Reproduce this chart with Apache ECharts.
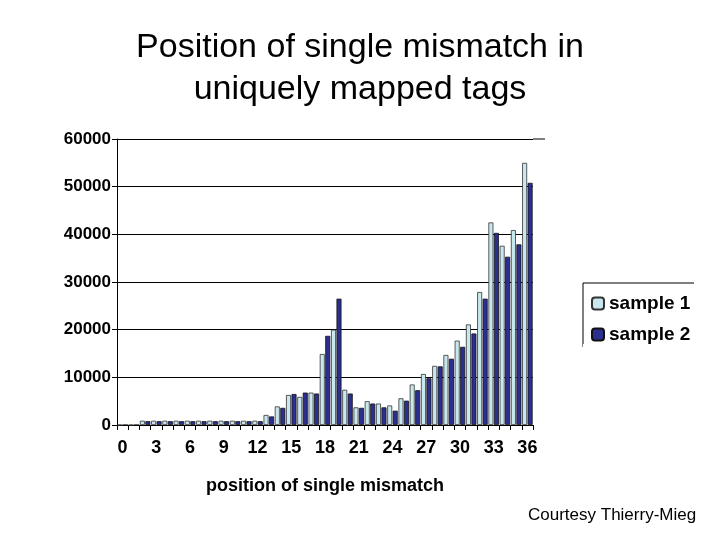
<!DOCTYPE html><html><head><meta charset="utf-8"><script src="https://cdn.jsdelivr.net/npm/echarts@6/dist/echarts.min.js"></script></head><body style="margin:0;background:#fff"><div id="c" style="width:720px;height:540px"></div><script>
const categories = Array.from({length:37},(_,i)=>String(i));
const sample1 = [0,0,900,900,900,900,900,900,900,900,900,900,900,2100,3900,6300,5900,6800,14900,20000,7400,3700,5000,4500,4100,5600,8500,10700,12400,14700,17700,21100,27900,42500,37600,40900,55000];
const sample2 = [0,0,800,800,800,800,800,800,800,800,800,800,800,1800,3600,6500,6800,6600,18700,26500,6600,3600,4500,3700,3000,5100,7300,9800,12300,13900,16400,19200,26500,40300,35300,37900,50800];
const yTicks = [0,10000,20000,30000,40000,50000,60000];
const F='Liberation Sans, Arial, sans-serif';
const ch=echarts.init(document.getElementById('c'));
ch.setOption({
 animation:false,
 title:{text:'Position of single mismatch in\nuniquely mapped tags',left:'center',top:22,textStyle:{fontFamily:F,fontWeight:'normal',fontSize:34,lineHeight:42,color:'#000'}},
 graphic:[{type:'line',shape:{x1:533,y1:139,x2:545,y2:139},style:{stroke:'#000',lineWidth:1}},
  {type:'rect',shape:{x:583,y:283,width:112,height:64},style:{fill:'#fff',stroke:'#000',lineWidth:1}},
  {type:'rect',shape:{x:583,y:344,width:120,height:10},style:{fill:'#fff'}},
  {type:'rect',shape:{x:694,y:280,width:10,height:70},style:{fill:'#fff'}},
  {type:'text',left:528,top:507,style:{text:'Courtesy Thierry-Mieg',fontFamily:F,fontSize:17,fill:'#000'}}],
 legend:{left:586,top:289,orient:'vertical',itemWidth:12,itemHeight:12,itemGap:12,textStyle:{fontFamily:F,fontWeight:'bold',fontSize:19,color:'#000'},data:['sample 1','sample 2']},
 grid:{left:117,right:187,top:139,bottom:115},
 xAxis:{type:'category',data:categories,name:'position of single mismatch',nameLocation:'middle',nameGap:52,nameTextStyle:{fontFamily:F,fontWeight:'bold',fontSize:18,color:'#000'},
  axisLine:{lineStyle:{color:'#000'}},axisTick:{show:true,interval:0,alignWithLabel:false,lineStyle:{color:'#000'}},
  axisLabel:{interval:2,fontFamily:F,fontWeight:'bold',fontSize:18,color:'#000',margin:14}},
 yAxis:{type:'value',min:0,max:60000,interval:10000,axisLine:{show:true,lineStyle:{color:'#000'}},axisTick:{show:true,lineStyle:{color:'#000'}},
  splitLine:{lineStyle:{color:'#000',width:1}},axisLabel:{fontFamily:F,fontWeight:'bold',fontSize:17,color:'#000',margin:6,formatter:v=>String(v)}},
 series:[{name:'sample 1',type:'bar',data:sample1,barWidth:5,barGap:'10%',itemStyle:{color:'#c9e7ee',borderColor:'#333',borderWidth:0.8}},
  {name:'sample 2',type:'bar',data:sample2,barWidth:5,itemStyle:{color:'#2b2f8f',borderColor:'#111',borderWidth:0.8}}]
});
</script></body></html>
